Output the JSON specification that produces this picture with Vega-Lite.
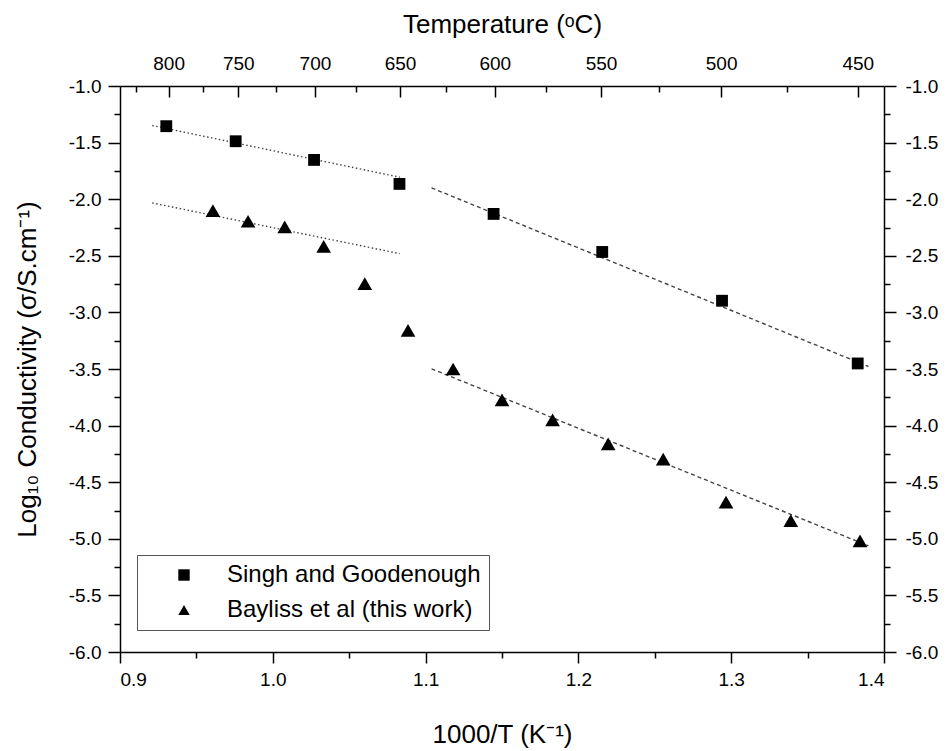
{
  "$schema": "https://vega.github.io/schema/vega-lite/v6.json",
  "width": 764,
  "height": 566,
  "autosize": {"type": "none"},
  "padding": {"left": 120, "top": 86, "right": 68, "bottom": 99},
  "background": "white",
  "config": {
    "view": {"stroke": null},
    "font": "Liberation Sans",
    "axis": {
      "grid": false,
      "domainColor": "black",
      "tickColor": "black",
      "labelColor": "black",
      "titleColor": "black",
      "labelFont": "Liberation Sans",
      "titleFont": "Liberation Sans",
      "labelFontSize": 19,
      "titleFontSize": 26,
      "titleFontWeight": "normal",
      "domainWidth": 1.5,
      "tickWidth": 1.5
    },
    "legend": {"labelFont": "Liberation Sans"}
  },
  "datasets": {
    "points": [
      {"series": "Singh and Goodenough", "x": 0.9303, "y": -1.355},
      {"series": "Singh and Goodenough", "x": 0.9757, "y": -1.488},
      {"series": "Singh and Goodenough", "x": 1.027, "y": -1.653},
      {"series": "Singh and Goodenough", "x": 1.0829, "y": -1.865},
      {"series": "Singh and Goodenough", "x": 1.1445, "y": -2.13},
      {"series": "Singh and Goodenough", "x": 1.2156, "y": -2.466},
      {"series": "Singh and Goodenough", "x": 1.294, "y": -2.897},
      {"series": "Singh and Goodenough", "x": 1.3828, "y": -3.451},
      {"series": "Bayliss et al (this work)", "x": 0.9608, "y": -2.101},
      {"series": "Bayliss et al (this work)", "x": 0.9838, "y": -2.195},
      {"series": "Bayliss et al (this work)", "x": 1.0078, "y": -2.245},
      {"series": "Bayliss et al (this work)", "x": 1.0333, "y": -2.416},
      {"series": "Bayliss et al (this work)", "x": 1.0602, "y": -2.746},
      {"series": "Bayliss et al (this work)", "x": 1.0885, "y": -3.159},
      {"series": "Bayliss et al (this work)", "x": 1.118, "y": -3.5},
      {"series": "Bayliss et al (this work)", "x": 1.15, "y": -3.772},
      {"series": "Bayliss et al (this work)", "x": 1.1831, "y": -3.949},
      {"series": "Bayliss et al (this work)", "x": 1.2195, "y": -4.161},
      {"series": "Bayliss et al (this work)", "x": 1.2555, "y": -4.296},
      {"series": "Bayliss et al (this work)", "x": 1.2966, "y": -4.676},
      {"series": "Bayliss et al (this work)", "x": 1.339, "y": -4.839},
      {"series": "Bayliss et al (this work)", "x": 1.3843, "y": -5.019}
    ],
    "fits": [
      {"seg": "S-high", "style": "dotted", "x": 0.9211, "y": -1.349},
      {"seg": "S-high", "style": "dotted", "x": 1.0831, "y": -1.806},
      {"seg": "B-high", "style": "dotted", "x": 0.9211, "y": -2.033},
      {"seg": "B-high", "style": "dotted", "x": 1.0831, "y": -2.481},
      {"seg": "S-low", "style": "dashed", "x": 1.1039, "y": -1.9},
      {"seg": "S-low", "style": "dashed", "x": 1.3898, "y": -3.478},
      {"seg": "B-low", "style": "dashed", "x": 1.1039, "y": -3.498},
      {"seg": "B-low", "style": "dashed", "x": 1.3898, "y": -5.062}
    ]
  },
  "layer": [
    {
      "data": {"name": "fits"},
      "transform": [{"filter": "datum.style === 'dotted'"}],
      "mark": {"type": "line", "color": "#444", "strokeWidth": 1.4, "strokeDash": [1.5, 2.5]},
      "encoding": {
        "x": {
          "field": "x", "type": "quantitative",
          "scale": {"domain": [0.9, 1.4], "nice": false, "zero": false},
          "axis": {
            "orient": "bottom",
            "values": [0.9, 1.0, 1.1, 1.2, 1.3, 1.4],
            "format": ".1f",
            "tickSize": 11,
            "labelPadding": 7,
            "title": "1000/T (K⁻¹)",
            "titlePadding": 32
          }
        },
        "y": {
          "field": "y", "type": "quantitative",
          "scale": {"domain": [-6, -1], "nice": false, "zero": false},
          "axis": {
            "orient": "left",
            "values": [-6, -5.5, -5, -4.5, -4, -3.5, -3, -2.5, -2, -1.5, -1],
            "labelExpr": "replace(format(datum.value, '.1f'), '\u2212', '-')",
            "tickSize": 12,
            "labelPadding": 7,
            "title": "Log₁₀ Conductivity (σ/S.cm⁻¹)",
            "titlePadding": 28
          }
        },
        "detail": {"field": "seg"}
      }
    },
    {
      "data": {"name": "fits"},
      "transform": [{"filter": "datum.style === 'dashed'"}],
      "mark": {"type": "line", "color": "#444", "strokeWidth": 1.4, "strokeDash": [4, 3]},
      "encoding": {
        "x": {
          "field": "x", "type": "quantitative",
          "scale": {"domain": [0.9, 1.4], "nice": false, "zero": false},
          "axis": {
            "orient": "top",
            "values": [0.931836, 0.977374, 1.027591, 1.083248, 1.145279, 1.214845, 1.29341, 1.382839],
            "labelExpr": "format(1000 / datum.value - 273.15, '.0f')",
            "tickSize": -11,
            "labelPadding": 24,
            "title": "Temperature (ᵒC)",
            "titlePadding": 17
          }
        },
        "y": {
          "field": "y", "type": "quantitative",
          "scale": {"domain": [-6, -1], "nice": false, "zero": false},
          "axis": {
            "orient": "right",
            "values": [-6, -5.5, -5, -4.5, -4, -3.5, -3, -2.5, -2, -1.5, -1],
            "labelExpr": "replace(format(datum.value, '.1f'), '\u2212', '-')",
            "tickSize": 12,
            "labelPadding": 9,
            "title": null
          }
        },
        "detail": {"field": "seg"}
      }
    },
    {
      "data": {"name": "points"},
      "mark": {"type": "point", "filled": true, "color": "black", "opacity": 1},
      "encoding": {
        "x": {
          "field": "x", "type": "quantitative",
          "scale": {"domain": [0.9, 1.4], "nice": false, "zero": false},
          "axis": {
            "orient": "bottom",
            "values": [0.95, 1.05, 1.15, 1.25, 1.35],
            "tickSize": 6,
            "labels": false,
            "domain": false,
            "title": null
          }
        },
        "y": {
          "field": "y", "type": "quantitative",
          "scale": {"domain": [-6, -1], "nice": false, "zero": false},
          "axis": {
            "orient": "left",
            "values": [-5.75, -5.25, -4.75, -4.25, -3.75, -3.25, -2.75, -2.25, -1.75, -1.25],
            "tickSize": 6,
            "labels": false,
            "domain": false,
            "title": null
          }
        },
        "shape": {
          "field": "series", "type": "nominal",
          "scale": {"domain": ["Singh and Goodenough", "Bayliss et al (this work)"], "range": ["square", "triangle-up"]},
          "legend": {
            "title": null,
            "orient": "none",
            "legendX": 17,
            "legendY": 469,
            "strokeColor": "#555",
            "fillColor": "white",
            "padding": 8,
            "labelFontSize": 24,
            "labelLimit": 0,
            "labelColor": "black",
            "symbolSize": 130,
            "symbolFillColor": "black",
            "symbolStrokeColor": "black",
            "symbolOffset": 27,
            "labelOffset": 31,
            "rowPadding": 11
          }
        },
        "size": {
          "condition": {"test": "datum.series === 'Singh and Goodenough'", "value": 140},
          "value": 215
        }
      }
    },
    {
      "data": {"name": "points"},
      "mark": {"type": "point", "opacity": 0},
      "encoding": {
        "x": {
          "field": "x", "type": "quantitative",
          "scale": {"domain": [0.9, 1.4], "nice": false, "zero": false},
          "axis": {
            "orient": "top",
            "values": [0.910622, 0.954062, 1.001853, 1.054686, 1.1134, 1.179037, 1.252897, 1.33663],
            "tickSize": -6,
            "labels": false,
            "domain": false,
            "title": null
          }
        },
        "y": {
          "field": "y", "type": "quantitative",
          "scale": {"domain": [-6, -1], "nice": false, "zero": false},
          "axis": {
            "orient": "right",
            "values": [-5.75, -5.25, -4.75, -4.25, -3.75, -3.25, -2.75, -2.25, -1.75, -1.25],
            "tickSize": 6,
            "labels": false,
            "domain": false,
            "title": null
          }
        }
      }
    }
  ],
  "resolve": {"axis": {"x": "independent", "y": "independent"}}
}
